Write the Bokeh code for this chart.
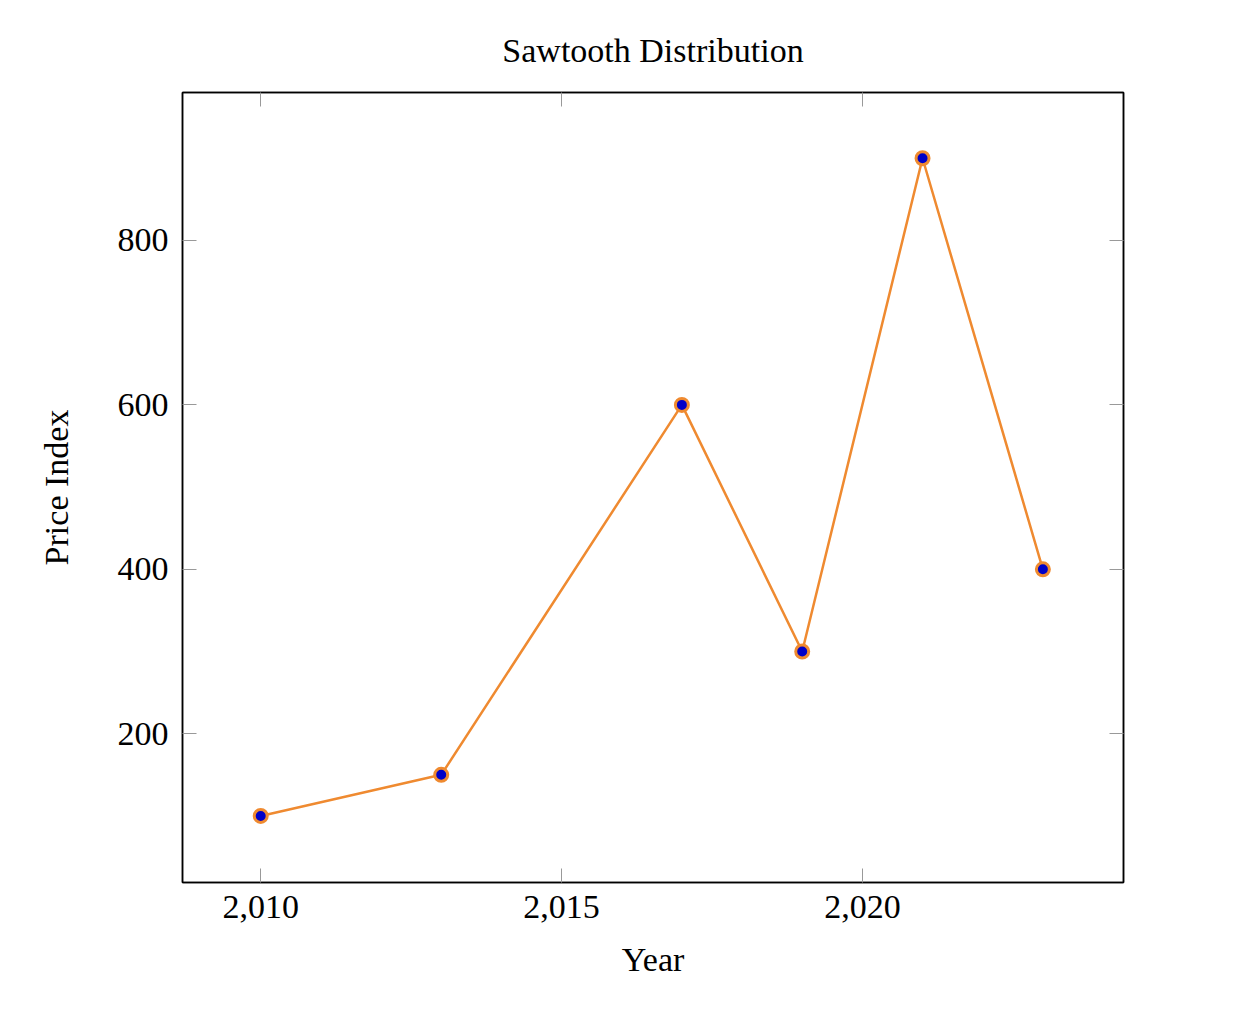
from bokeh.plotting import figure
from bokeh.models import LinearAxis, FixedTicker, NumeralTickFormatter, Range1d, CustomJSTickFormatter
from bokeh.embed import file_html
from bokeh.resources import INLINE

years = [2010, 2013, 2017, 2019, 2021, 2023]
price_index = [100, 150, 600, 300, 900, 400]
x_ticks = [2010, 2015, 2020]
y_ticks = [200, 400, 600, 800]

FONT = "Liberation Serif"
FS = "34px"
LINE_COLOR = "#ef8a30"
FILL_COLOR = "#0000c8"

p = figure(width=1220, height=990, output_backend="svg", toolbar_location=None,
           x_range=Range1d(2008.7, 2024.34), y_range=Range1d(19, 980),
           min_border_left=182, min_border_top=92, min_border_right=97, min_border_bottom=108)

p.title.text = "Sawtooth Distribution"
p.title.align = "center"
p.title.text_font = FONT
p.title.text_font_size = FS
p.title.text_font_style = "normal"
p.title.text_color = "black"
p.title.standoff = 48

p.xgrid.visible = False
p.ygrid.visible = False
p.outline_line_color = "black"
p.outline_line_width = 1.5

p.line(years, price_index, line_color=LINE_COLOR, line_width=2.5)
p.scatter(years, price_index, size=13, fill_color=FILL_COLOR, line_color=LINE_COLOR, line_width=3)

def style(ax):
    ax.major_tick_in = 14
    ax.major_tick_out = 0
    ax.minor_tick_in = 0
    ax.minor_tick_out = 0
    ax.major_tick_line_color = "#999999"
    ax.major_tick_line_width = 1
    ax.axis_line_color = "black"
    ax.axis_line_width = 1.5
    ax.major_label_text_font = FONT
    ax.major_label_text_font_size = FS
    ax.major_label_text_color = "black"
    ax.axis_label_text_font = FONT
    ax.axis_label_text_font_size = FS
    ax.axis_label_text_font_style = "normal"
    ax.axis_label_text_color = "black"

xa = p.xaxis[0]
xa.ticker = FixedTicker(ticks=x_ticks)
xa.formatter = NumeralTickFormatter(format="0,0")
xa.axis_label = "Year"
style(xa)
xa.major_label_standoff = 13
xa.axis_label_standoff = 20

ya = p.yaxis[0]
ya.ticker = FixedTicker(ticks=y_ticks)
ya.axis_label = "Price Index"
style(ya)
ya.major_label_standoff = 14
ya.axis_label_standoff = 40

blank = CustomJSTickFormatter(code="return '';")
top = LinearAxis(ticker=FixedTicker(ticks=x_ticks), formatter=blank, major_label_standoff=0)
style(top)
p.add_layout(top, "above")
right = LinearAxis(ticker=FixedTicker(ticks=y_ticks), formatter=blank, major_label_standoff=0)
style(right)
p.add_layout(right, "right")

open("out.html", "w").write(file_html(p, INLINE))
